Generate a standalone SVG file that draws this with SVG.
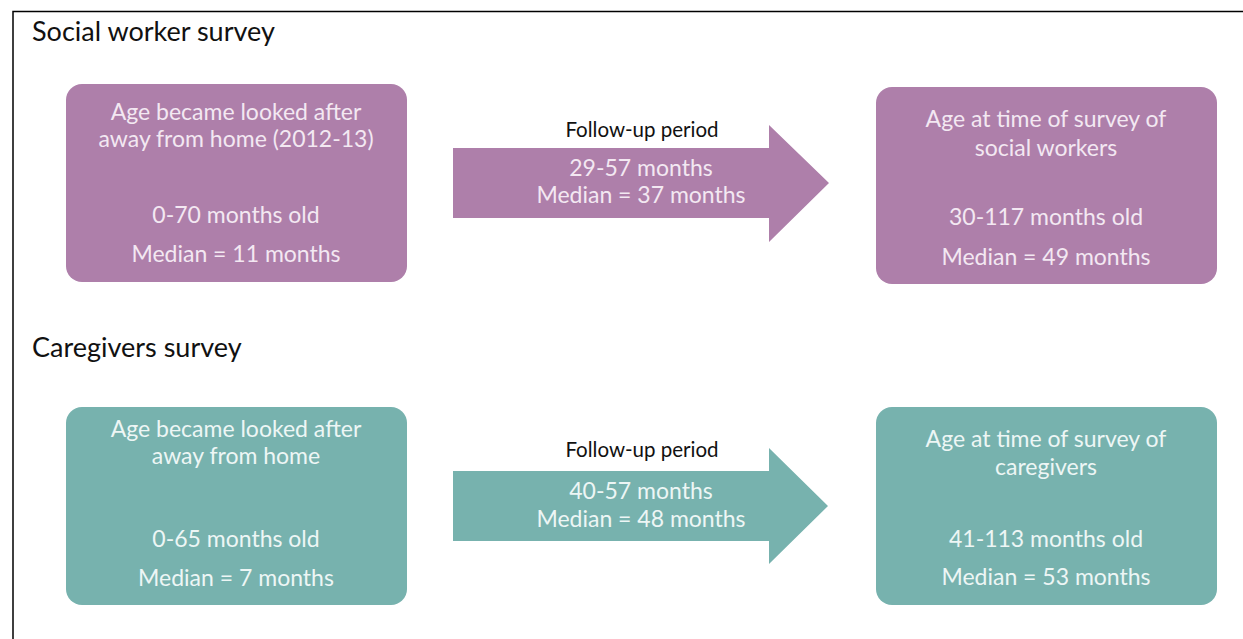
<svg xmlns="http://www.w3.org/2000/svg" width="1243" height="639" viewBox="0 0 1243 639">
<style>
.frame{stroke:#000;stroke-width:1.5;fill:none}
.title{font-family:Lato,"Open Sans",sans-serif;font-size:27px;fill:#111}
.pur{fill:#AE7FAA}
.teal{fill:#77B2AE}
.t{font-family:Lato,"Open Sans",sans-serif;font-size:23px;text-anchor:middle}
.tp{fill:#F3E8F2}
.tt{fill:#EDF6F5}
.lbl{font-family:Lato,"Open Sans",sans-serif;font-size:20.5px;fill:#111;text-anchor:middle}
</style>
<rect width="1243" height="639" fill="#fff"/>
<path class="frame" d="M13,639 V11.5 H1243"/>
<text class="title" x="32" y="41">Social worker survey</text>
<text class="title" x="32" y="357">Caregivers survey</text>

<g id="sw-start">
<rect class="pur" x="66" y="84" width="341" height="198" rx="16"/>
<text class="t tp" x="236" y="120">Age became looked after</text>
<text class="t tp" x="236" y="147">away from home (2012-13)</text>
<text class="t tp" x="236" y="223">0-70 months old</text>
<text class="t tp" x="236" y="262">Median = 11 months</text>
</g>
<g id="sw-end">
<rect class="pur" x="876" y="87" width="341" height="197" rx="16"/>
<text class="t tp" x="1046" y="127">Age at time of survey of</text>
<text class="t tp" x="1046" y="156">social workers</text>
<text class="t tp" x="1046" y="225">30-117 months old</text>
<text class="t tp" x="1046" y="265">Median = 49 months</text>
</g>
<g id="cg-start">
<rect class="teal" x="66" y="407" width="341" height="198" rx="16"/>
<text class="t tt" x="236" y="437">Age became looked after</text>
<text class="t tt" x="236" y="464">away from home</text>
<text class="t tt" x="236" y="547">0-65 months old</text>
<text class="t tt" x="236" y="586">Median = 7 months</text>
</g>
<g id="cg-end">
<rect class="teal" x="876" y="407" width="341" height="198" rx="16"/>
<text class="t tt" x="1046" y="447">Age at time of survey of</text>
<text class="t tt" x="1046" y="475">caregivers</text>
<text class="t tt" x="1046" y="547">41-113 months old</text>
<text class="t tt" x="1046" y="585">Median = 53 months</text>
</g>

<g id="connectors">
<g id="sw-arrow">
<polygon class="pur" points="453,148 769,148 769,125 829,183 769,242 769,218 453,218"/>
<text class="lbl" x="642" y="137">Follow-up period</text>
<text class="t tp" x="641" y="176">29-57 months</text>
<text class="t tp" x="641" y="203">Median = 37 months</text>
</g>
<g id="cg-arrow">
<polygon class="teal" points="453,471 769,471 769,448 828,506 769,564 769,541 453,541"/>
<text class="lbl" x="642" y="457">Follow-up period</text>
<text class="t tt" x="641" y="499">40-57 months</text>
<text class="t tt" x="641" y="527">Median = 48 months</text>
</g>
</g>
</svg>
